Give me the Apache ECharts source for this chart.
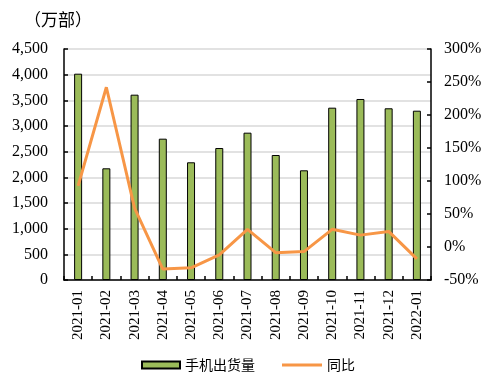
<!DOCTYPE html>
<html><head><meta charset="utf-8">
<script src="https://cdn.jsdelivr.net/npm/echarts@6/dist/echarts.min.js"></script>
<style>html,body{margin:0;padding:0;background:#fff}#c{width:486px;height:384px}</style>
</head><body><div id="c"></div>
<script>
const categories = ['2021-01','2021-02','2021-03','2021-04','2021-05','2021-06','2021-07','2021-08','2021-09','2021-10','2021-11','2021-12','2022-01'];
const shipments = [4019, 2176, 3610, 2753, 2293, 2571, 2870, 2435, 2137, 3357, 3526, 3345, 3298];
const yoy = [92.7, 242, 59, -33.5, -31.5, -12, 26.8, -8.6, -7, 26.8, 18, 23.6, -18];
const leftTicks = [0, 500, 1000, 1500, 2000, 2500, 3000, 3500, 4000, 4500];
const rightTicks = [-50, 0, 50, 100, 150, 200, 250, 300];
const unitLabel = '（万部）';
const seriesNames = ['手机出货量', '同比'];

const serif = '"Liberation Serif","Times New Roman",serif';
const cjk = '"Noto Sans CJK SC",sans-serif';
const chart = echarts.init(document.getElementById('c'), null, {renderer:'canvas'});
const legendText = {fontFamily: cjk, fontSize: 14, color: '#000'};
chart.setOption({
  animation: false,
  backgroundColor: '#fff',
  graphic: [{type:'text', left: 24, top: 11, style:{text: unitLabel, font: '17px ' + cjk, fill:'#000'}}],
  grid: {left: 64, right: 55, top: 49, bottom: 104, containLabel: false},
  legend: [{
    top: 358, left: 141, padding: 0, itemWidth: 38, itemHeight: 7,
    textStyle: legendText,
    data: [{name: seriesNames[0], icon: 'rect'}]
  }, {
    top: 358, left: 282, padding: 0, itemWidth: 40, itemHeight: 3,
    textStyle: legendText,
    data: [{name: seriesNames[1], icon: 'rect', itemStyle: {color: '#f79646'}}]
  }],
  xAxis: {
    type: 'category', data: categories, boundaryGap: true,
    axisLine: {lineStyle:{color:'#000', width:1.5}},
    axisTick: {show:true, inside:true, length:4, alignWithLabel:false, lineStyle:{color:'#000', width:1.5}},
    axisLabel: {rotate: 90, interval: 0, margin: 10, fontFamily: serif, fontSize: 15, color:'#000'}
  },
  yAxis: [{
    type: 'value', min: leftTicks[0], max: leftTicks[leftTicks.length-1], interval: leftTicks[1]-leftTicks[0],
    axisLine: {show:true, lineStyle:{color:'#000', width:1.5}},
    axisTick: {show:true, inside:true, length:4, lineStyle:{color:'#000', width:1.5}},
    splitLine: {show:true, lineStyle:{color:'#d9d9d9', width:1.5}},
    axisLabel: {margin: 16, fontFamily: serif, fontSize: 16, color:'#000',
      formatter: v => v.toLocaleString('en-US')}
  }, {
    type: 'value', min: rightTicks[0], max: rightTicks[rightTicks.length-1], interval: rightTicks[1]-rightTicks[0],
    position: 'right',
    axisLine: {show:true, lineStyle:{color:'#000', width:1.5}},
    axisTick: {show:true, inside:true, length:4, lineStyle:{color:'#000', width:1.5}},
    splitLine: {show:false},
    axisLabel: {margin: 13, fontFamily: serif, fontSize: 16, color:'#000', formatter: '{value}%'}
  }],
  series: [{
    name: seriesNames[0], type: 'bar', data: shipments, barWidth: 8, yAxisIndex: 0,
    itemStyle: {color:'#9bbb59', borderColor:'#000', borderWidth:1}
  }, {
    name: seriesNames[1], type: 'line', data: yoy, yAxisIndex: 1, symbol: 'none', z: 5,
    lineStyle: {color:'#f79646', width:3}, itemStyle:{color:'#f79646'}
  }]
});
</script></body></html>
